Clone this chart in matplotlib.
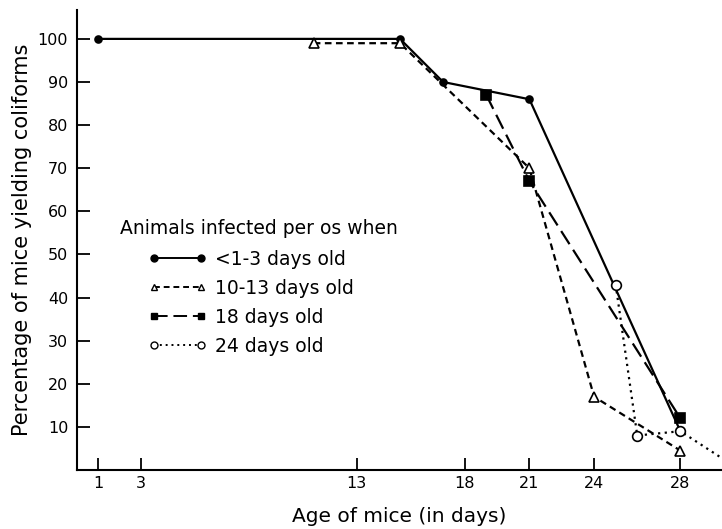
import matplotlib
matplotlib.use("Agg")
import matplotlib.pyplot as plt
from matplotlib.lines import Line2D

# Data
x_a = [1, 15, 17, 21, 28]
y_a = [100, 100, 90, 86, 9]          # <1-3 days old
x_b = [11, 15, 21, 24, 28]
y_b = [99, 99, 70, 17, 4.5]          # 10-13 days old
x_c = [19, 21, 28]
y_c = [87, 67, 12]                   # 18 days old
x_d = [25, 26, 28, 30]
y_d = [43, 8, 9, 2.5]                # 24 days old

labels = ["<1-3 days old", "10-13 days old", "18 days old", "24 days old"]
legend_title = "Animals infected per os when"
xticks = [1, 3, 13, 18, 21, 24, 28]
yticks = [10, 20, 30, 40, 50, 60, 70, 80, 90, 100]

plt.rcParams['font.family'] = ['DejaVu Sans']

W, H = 722, 529
fig = plt.figure(figsize=(W/100, H/100), dpi=100)
ax = fig.add_axes([76.5/W, 1-470/H, 1-76.5/W, (470-10)/H])

styles = [
    dict(ls='-', marker='o', mfc='black'),
    dict(ls=(0, (3, 2)), marker='^', mfc='white'),
    dict(ls=(0, (7, 3)), marker='s', mfc='black'),
    dict(ls=(0, (1, 2)), marker='o', mfc='white'),
]
sizes = [5, 7, 7, 7]
series = [(x_a, y_a), (x_b, y_b), (x_c, y_c), (x_d, y_d)]
for i, ((xs, ys), st) in enumerate(zip(series, styles)):
    kw = {}
    if i == 3:
        kw['markevery'] = [0, 1, 2]
    ax.plot(xs, ys, color='black', lw=1.6, ms=sizes[i], mec='black',
            mew=1.2, label=labels[i], **st, **kw)

ax.set_xlim(0, 29.93)
ax.set_ylim(0, 106.7)
ax.set_xticks(xticks)
ax.set_xticklabels([str(t) for t in xticks])
ax.set_yticks(yticks)
ax.tick_params(direction='in', length=9, width=1.3, labelsize=11.5, colors='black')
ax.tick_params(axis='x', pad=4)
ax.tick_params(axis='y', pad=6)
for s in ['top', 'right']:
    ax.spines[s].set_visible(False)
for s in ['left', 'bottom']:
    ax.spines[s].set_linewidth(1.5)

ax.set_xlabel("Age of mice (in days)", fontsize=14.5, labelpad=12)
ax.set_ylabel("Percentage of mice yielding coliforms", fontsize=15, labelpad=4)

# Legend: title as text, entries with small markers at both ends
handles = [Line2D([], [], color='black', lw=1.4, ms=5, mec='black', mew=1.0, **st)
           for st in styles]
leg = fig.legend(handles, labels, loc='upper left',
                 bbox_to_anchor=(148/W, 1-250/H), frameon=False, fontsize=13.5,
                 handlelength=3.15, handletextpad=0.43, labelspacing=0.53,
                 borderaxespad=0, borderpad=0, numpoints=2)
fig.text(120/W, 1-228/H, legend_title, fontsize=13.5, va='center', ha='left')

fig.savefig("out.png", dpi=100)
